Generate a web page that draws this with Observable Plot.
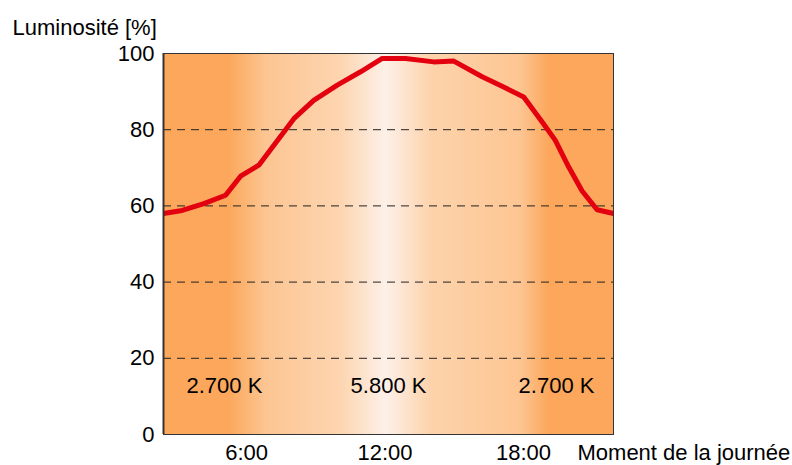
<!DOCTYPE html>
<html><head><meta charset="utf-8">
<script src="https://cdn.jsdelivr.net/npm/d3@7"></script>
<script src="https://cdn.jsdelivr.net/npm/@observablehq/plot@0.6"></script>
<style>body{margin:0;background:#fff}</style>
</head><body><div id="chart"></div>
<script>
const hours = [2.4, 3.21, 4.15, 5.09, 5.74, 6.53, 8.05, 8.91, 9.93, 10.94, 11.88, 12.89, 14.11, 14.98, 16.21, 17.14, 18.01, 18.81, 19.38, 19.96, 20.54, 21.19, 21.9];
const luminosity = [58.0, 58.8, 60.6, 62.8, 67.8, 70.7, 82.9, 87.7, 91.7, 95.2, 98.7, 98.7, 97.8, 98.0, 93.9, 91.2, 88.6, 82.0, 77.2, 70.2, 63.9, 59.0, 58.0];
const yTicks = [0, 20, 40, 60, 80, 100];
const gridTicks = [20, 40, 60, 80];
const xTicks = [6, 12, 18];
const xTickLabels = ["6:00", "12:00", "18:00"];
const cctLabels = ["2.700 K", "5.800 K", "2.700 K"];
const cctHours = [5.04, 12.15, 19.43];
const cctLevel = 12.8;
const yTitle = "Luminosité [%]";
const xTitle = "Moment de la journée";

const data = hours.map((h, i) => ({h, v: luminosity[i]}));
const cct = cctLabels.map((t, i) => ({t, h: cctHours[i], v: cctLevel}));

const plot = Plot.plot({
  width: 792, height: 465,
  marginLeft: 163, marginRight: 179, marginTop: 53, marginBottom: 31,
  style: {fontFamily: "'Liberation Sans', Arial, sans-serif", fontSize: "22px", color: "#000", background: "transparent", overflow: "visible"},
  x: {domain: [2.4, 21.9]},
  y: {domain: [0, 100]},
  marks: [
    Plot.frame({fill: "url(#bgGrad)", stroke: "none"}),
    Plot.ruleY(gridTicks, {stroke: "#222", strokeDasharray: "8,6", strokeWidth: 1}),
    Plot.text(cct, {x: "h", y: "v", text: "t", fontSize: 22, fill: "#000"}),
    Plot.line(data, {x: "h", y: "v", stroke: "#e3000f", strokeWidth: 5, clip: "frame", strokeLinejoin: "miter"}),
    Plot.frame({stroke: "#333", strokeWidth: 1}),
    Plot.ruleX([2.4], {stroke: "#333", strokeWidth: 2}),
    Plot.axisY(yTicks, {tickSize: 0, tickPadding: 9, label: null, fontSize: 22}),
    Plot.axisX(xTicks, {tickSize: 0, tickPadding: 10, label: null, fontSize: 22, tickFormat: d => xTickLabels[xTicks.indexOf(d)]}),
    Plot.text([yTitle], {frameAnchor: "top-left", text: d => d, textAnchor: "start", lineAnchor: "middle", dx: -151, dy: -26, fontSize: 22}),
    Plot.text([xTitle], {frameAnchor: "bottom-right", text: d => d, textAnchor: "start", lineAnchor: "top", dx: -36, dy: 10, fontSize: 22})
  ]
});

const ns = "http://www.w3.org/2000/svg";
const defs = document.createElementNS(ns, "defs");
defs.innerHTML = `<linearGradient id="bgGrad" x1="0" x2="1" y1="0" y2="0">
  <stop offset="0" stop-color="#fca75b"/>
  <stop offset="0.144" stop-color="#fca75b"/>
  <stop offset="0.227" stop-color="#fcc592"/>
  <stop offset="0.393" stop-color="#fdd5b0"/>
  <stop offset="0.493" stop-color="#fdf0e8"/>
  <stop offset="0.593" stop-color="#fdd3ac"/>
  <stop offset="0.793" stop-color="#fdc592"/>
  <stop offset="0.856" stop-color="#fca75b"/>
  <stop offset="1" stop-color="#fca75b"/>
</linearGradient>`;
plot.prepend(defs);
document.getElementById("chart").appendChild(plot);
</script>
</body></html>
